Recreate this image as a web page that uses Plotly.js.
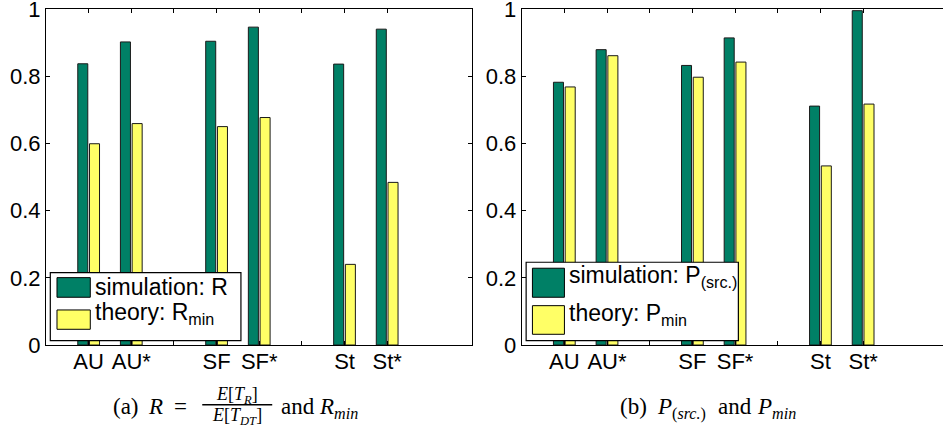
<!DOCTYPE html>
<html>
<head>
<meta charset="utf-8">
<script src="https://cdn.plot.ly/plotly-3.0.1.min.js"></script>
<style>
  html, body { margin: 0; padding: 0; background: #fff; overflow: hidden; }
  #chart { width: 943px; height: 433px; }
</style>
</head>
<body>
<div id="chart"></div>
<script>
// ---- data ----
const categories = ['AU', 'AU*', 'SF', 'SF*', 'St', 'St*'];
const slots = [1, 2, 4, 5, 7, 8];
const gapSlots = [3, 6];
const simR = [0.837, 0.902, 0.904, 0.946, 0.836, 0.940];
const theoryRmin = [0.599, 0.659, 0.650, 0.677, 0.240, 0.484];
const simP = [0.782, 0.879, 0.832, 0.914, 0.711, 0.995];
const theoryPmin = [0.768, 0.861, 0.797, 0.842, 0.533, 0.717];
const yTicks = [0, 0.2, 0.4, 0.6, 0.8, 1];
const yTickLabels = ['0', '0.2', '0.4', '0.6', '0.8', '1'];

// ---- geometry helpers (pixel -> paper) ----
const W = 943, H = 433;
const ML = 45.7, MR = 0, MT = 9.3, MB = H - 345;
const PW = W - ML - MR, PH = H - MT - MB;
const px = x => (x - ML) / PW;
const py = y => (H - MB - y) / PH;

const GREEN = '#008066', YELLOW = '#FFFF66', EDGE = '#1a1a1a';
const SANS = 'Liberation Sans, Arial, Helvetica, sans-serif';
const SERIF = 'Liberation Serif, Times New Roman, serif';
const BW = 0.235;

function barTrace(y, color, xa, ya, name, off) {
  return {
    type: 'bar', x: slots, y: y, name: name, xaxis: xa, yaxis: ya,
    width: BW, offset: off, showlegend: false,
    marker: { color: color, line: { color: EDGE, width: 1 } },
    hoverinfo: 'x+y'
  };
}

const traces = [
  barTrace(simR, GREEN, 'x', 'y', 'simulation: R', -0.255),
  barTrace(theoryRmin, YELLOW, 'x', 'y', 'theory: R_min', 0.02),
  barTrace(simP, GREEN, 'x2', 'y2', 'simulation: P_(src.)', -0.255),
  barTrace(theoryPmin, YELLOW, 'x2', 'y2', 'theory: P_min', 0.02)
];

const xCommon = {
  tickmode: 'array', tickvals: slots, ticktext: categories,
  showline: true, linecolor: '#000', linewidth: 1, mirror: 'ticks',
  ticks: 'inside', ticklen: 4, tickcolor: '#000', tickwidth: 1,
  minor: { tickmode: 'array', tickvals: gapSlots, ticks: 'inside', ticklen: 4, tickcolor: '#000', tickwidth: 1, showgrid: false },
  showgrid: false, zeroline: false, fixedrange: true,
  ticklabelstandoff: -3,
  tickfont: { family: SANS, size: 22, color: '#000' }
};
const yCommon = {
  range: [0, 1], tickmode: 'array', tickvals: yTicks, ticktext: yTickLabels,
  showline: true, linecolor: '#000', linewidth: 1,
  ticks: 'inside', ticklen: 4, tickcolor: '#000', tickwidth: 1,
  showgrid: false, zeroline: false, fixedrange: true,
  ticklabeloverflow: 'allow',
  tickfont: { family: SANS, size: 22, color: '#000' }
};

const dom1 = [0, px(472.3)];
const dom2 = [px(521.5), 1];
const range2End = (943 - 521.5) / 42.7;

// custom legends (boxes + swatches)
function rect(x0, y0, x1, y1, fill, lw) {
  return { type: 'rect', xref: 'paper', yref: 'paper', layer: 'above',
    x0: px(x0), x1: px(x1), y0: py(y1), y1: py(y0),
    fillcolor: fill, line: { color: '#000', width: lw } };
}
const shapes = [
  rect(50, 272.7, 240.7, 340.7, '#fff', 1.2),
  rect(56.7, 277.7, 90, 297.3, GREEN, 1),
  rect(56.7, 310, 90, 329.3, YELLOW, 1),
  rect(526, 262.3, 738.3, 340.7, '#fff', 1.2),
  rect(532.3, 268.3, 564.3, 297.3, GREEN, 1),
  rect(532.3, 305.7, 564.3, 334.3, YELLOW, 1),
  // fraction bar in caption (a)
  { type: 'line', xref: 'paper', yref: 'paper', x0: px(202), x1: px(272),
    y0: py(404.7), y1: py(404.7), line: { color: '#000', width: 1.6 } }
];

function ann(text, x, y, xanchor, size, family) {
  return { text: text, xref: 'paper', yref: 'paper', x: px(x), y: py(y),
    xanchor: xanchor, yanchor: 'middle', showarrow: false,
    font: { family: family || SANS, size: size || 23, color: '#000' } };
}
const CAP = 406, CS = 23;
const annotations = [
  ann('simulation: R', 92.5, 287, 'left'),
  ann('theory: R<sub>min</sub>', 92.5, 314, 'left'),
  ann('simulation: P<sub>(src.)</sub>', 566.5, 277, 'left'),
  ann('theory: P<sub>min</sub>', 566.5, 315, 'left'),
  // caption (a)
  ann('(a)', 111, CAP, 'left', CS, SERIF),
  ann('<i>R</i>', 146, CAP, 'left', CS, SERIF),
  ann('=', 172, CAP, 'left', CS, SERIF),
  ann('<i>E</i>[<i>T</i><sub><i>R</i></sub>]', 237, 395, 'center', 18, SERIF),
  ann('<i>E</i>[<i>T</i><sub><i>DT</i></sub>]', 237, 416.5, 'center', 18, SERIF),
  ann('and', 279, CAP, 'left', CS, SERIF),
  ann('<i>R</i><sub><i>min</i></sub>', 317, CAP + 2, 'left', CS, SERIF),
  // caption (b)
  ann('(b)', 618, CAP, 'left', CS, SERIF),
  ann('<i>P</i><sub>(<i>src.</i>)</sub>', 655, CAP + 2, 'left', CS, SERIF),
  ann('and', 716, CAP, 'left', CS, SERIF),
  ann('<i>P</i><sub><i>min</i></sub>', 755, CAP + 2, 'left', CS, SERIF)
];

const layout = {
  width: W, height: H,
  margin: { l: ML, r: MR, t: MT, b: MB, pad: 0 },
  paper_bgcolor: '#fff', plot_bgcolor: '#fff',
  showlegend: false, barmode: 'overlay',
  font: { family: SANS, color: '#000' },
  xaxis: Object.assign({}, xCommon, { domain: dom1, range: [0, 10], anchor: 'y' }),
  yaxis: Object.assign({}, yCommon, { domain: [0, 1], anchor: 'x', mirror: 'ticks' }),
  xaxis2: Object.assign({}, xCommon, { domain: dom2, range: [0, range2End], anchor: 'y2' }),
  yaxis2: Object.assign({}, yCommon, { domain: [0, 1], anchor: 'x2', mirror: false }),
  shapes: shapes,
  annotations: annotations
};

Plotly.newPlot('chart', traces, layout, { displayModeBar: false, staticPlot: true });
</script>
</body>
</html>
